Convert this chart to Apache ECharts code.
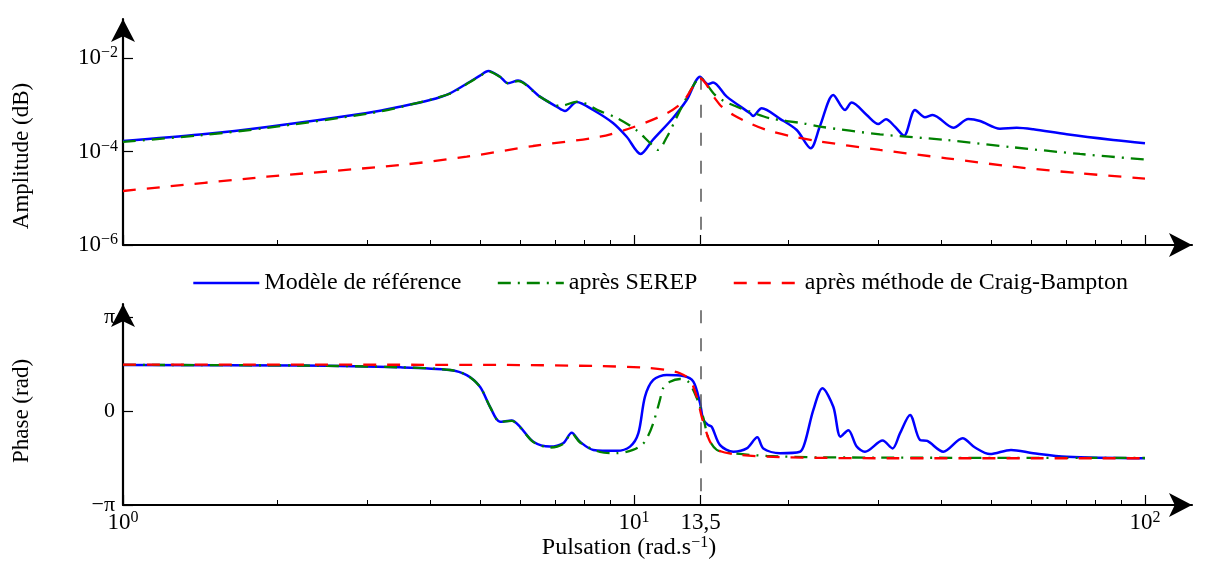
<!DOCTYPE html>
<html>
<head>
<meta charset="utf-8">
<script src="https://cdn.jsdelivr.net/npm/echarts@6/dist/echarts.min.js"></script>
<style>
  html, body { margin: 0; padding: 0; background: #fff; }
  #chart { width: 1213px; height: 563px; }
</style>
</head>
<body>
<div id="chart"></div>
<script>
// pulsation (rad/s) -> amplitude / phase (rad)
const refAmpW = [1, 1.415, 1.913, 3.002, 3.485, 3.989, 4.364, 4.776, 4.996, 5.187, 5.467, 5.668, 5.93, 6.546, 7.058, 7.328, 7.724, 8.32, 9.097, 9.676, 10.306, 10.88, 11.922, 12.68, 13.47, 13.96, 14.28, 15.19, 16.87, 17.1, 17.78, 19.31, 20.82, 22.17, 23.12, 24.55, 25.88, 26.67, 28.54, 30.07, 31.12, 32.41, 33.76, 35.48, 37.11, 38.41, 42.17, 45.11, 47.55, 52.03, 56.1, 60.45, 70.27, 86.7, 100];
const refAmp = [1.68e-4, 2.31e-4, 3.34e-4, 6.67e-4, 9.08e-4, 1.26e-3, 1.76e-3, 3.11e-3, 4.2e-3, 5.27e-3, 3.98e-3, 2.88e-3, 3.3e-3, 1.49e-3, 9.08e-4, 7.34e-4, 1.15e-3, 7.73e-4, 4.07e-4, 2.07e-4, 8.85e-5, 1.76e-4, 5.21e-4, 1.26e-3, 3.98e-3, 2.74e-3, 2.99e-3, 1.49e-3, 6.56e-4, 5.74e-4, 8.39e-4, 5.0e-4, 2.88e-4, 1.17e-4, 3.51e-4, 1.62e-3, 7.73e-4, 1.11e-3, 6.04e-4, 3.87e-4, 4.89e-4, 3.4e-4, 2.18e-4, 7.73e-4, 5.4e-4, 6.04e-4, 3.23e-4, 4.95e-4, 4.49e-4, 3.08e-4, 3.23e-4, 2.99e-4, 2.33e-4, 1.76e-4, 1.5e-4];

const refPhaseW = [1, 2.221, 3.485, 4.364, 4.706, 4.996, 5.227, 5.467, 5.765, 5.984, 6.354, 6.848, 7.262, 7.552, 7.841, 8.325, 9.25, 9.822, 10.196, 10.508, 10.909, 11.588, 12.489, 13.067, 13.468, 13.669, 13.981, 14.198, 14.738, 15.648, 16.622, 17.431, 17.908, 19.311, 21.13, 21.61, 22.43, 23.38, 24.55, 25.36, 26.27, 27.28, 28.32, 30.66, 32.06, 33.15, 34.69, 36.29, 37.5, 40.3, 43.95, 46.49, 49.74, 54.67, 60.45, 70.27, 100];
const refPhase = [1.54, 1.52, 1.46, 1.37, 1.2, 0.81, 0.14, -0.36, -0.32, -0.53, -1.03, -1.19, -1.08, -0.73, -1.03, -1.3, -1.33, -1.19, -0.75, 0.48, 1.04, 1.2, 1.17, 0.98, 0.26, -0.3, -0.47, -0.53, -1.14, -1.36, -1.25, -0.88, -1.25, -1.41, -1.36, -1.04, 0.03, 0.76, 0.14, -0.86, -0.64, -1.19, -1.36, -0.99, -1.25, -0.75, -0.13, -0.97, -1.0, -1.36, -0.91, -1.22, -1.44, -1.3, -1.41, -1.53, -1.58];

const serepAmpW = [1, 1.415, 1.913, 3.002, 3.485, 4.364, 4.776, 4.996, 5.187, 5.467, 5.668, 5.93, 6.546, 7.166, 7.77, 8.58, 9.262, 10.09, 10.75, 11.14, 11.6, 12.13, 12.76, 13.47, 14.4, 15.07, 15.89, 16.87, 18.46, 21.45, 23.12, 30.3, 40.92, 55.16, 74.6, 100];
const serepAmp = [1.6e-4, 2.22e-4, 3.2e-4, 6.4e-4, 8.9e-4, 1.72e-3, 3.05e-3, 4.1e-3, 5.15e-3, 3.95e-3, 2.88e-3, 3.2e-3, 1.49e-3, 9.4e-4, 1.17e-3, 7.3e-4, 5.2e-4, 2.9e-4, 1.52e-4, 1.08e-4, 2.04e-4, 5.5e-4, 1.62e-3, 3.68e-3, 1.62e-3, 1.16e-3, 9.08e-4, 7.1e-4, 5.13e-4, 4.0e-4, 3.4e-4, 2.33e-4, 1.76e-4, 1.23e-4, 8.85e-5, 6.75e-5];

const serepPhaseW = [1, 2.221, 3.485, 4.364, 4.706, 4.996, 5.227, 5.467, 5.765, 5.984, 6.354, 6.848, 7.262, 7.552, 7.841, 8.58, 9.25, 9.954, 10.41, 10.65, 10.91, 11.24, 11.41, 11.76, 12.3, 12.77, 13.27, 13.67, 13.98, 14.52, 15.62, 18.19, 23.12, 100];
const serepPhase = [1.54, 1.52, 1.46, 1.37, 1.2, 0.81, 0.14, -0.36, -0.33, -0.54, -1.04, -1.22, -1.1, -0.75, -1.05, -1.37, -1.41, -1.3, -1.1, -0.84, -0.4, 0.37, 0.77, 0.98, 1.07, 0.98, 0.43, -0.23, -0.9, -1.3, -1.41, -1.5, -1.55, -1.57];

const cbAmpW = [1, 1.913, 3.485, 4.706, 6.344, 8.58, 9.954, 11.59, 12.47, 13.05, 13.47, 14.4, 14.85, 15.65, 16.87, 18.19, 20.2, 22.78, 30.3, 40.92, 55.25, 74.6, 100];
const cbAmp = [1.43e-5, 2.89e-5, 5.14e-5, 7.74e-5, 1.31e-4, 2.07e-4, 3.3e-4, 6.56e-4, 1.16e-3, 2.43e-3, 3.64e-3, 1.37e-3, 9.1e-4, 6.04e-4, 4.0e-4, 2.88e-4, 2.15e-4, 1.68e-4, 1.08e-4, 7.16e-5, 4.73e-5, 3.42e-5, 2.64e-5];

const cbPhaseW = [1, 5.467, 8.58, 10.41, 11.59, 12.3, 12.87, 13.27, 13.57, 13.88, 14.09, 14.52, 16.13, 20.2, 31.7, 100];
const cbPhase = [1.55, 1.54, 1.5, 1.45, 1.37, 1.26, 1.04, 0.47, -0.2, -0.75, -1.03, -1.3, -1.47, -1.55, -1.58, -1.58];

const resonanceW = 13.5;
const majorTicksW = [1, 10, 13.5, 100];
const minorTicksW = [2, 3, 4, 5, 6, 7, 8, 9, 20, 30, 40, 50, 60, 70, 80, 90];
const ampTicks = [-6, -4, -2];           // decades
const phaseTicks = [-Math.PI, 0, Math.PI];
const seriesNames = ['Modèle de référence', 'après SEREP', 'après méthode de Craig-Bampton'];

const FONT = "'Liberation Serif', 'DejaVu Serif', serif";
const lg = Math.log10;
const ampPts = (ws, vs) => ws.map((w, i) => [lg(w), lg(vs[i])]);
const phPts = (ws, vs) => ws.map((w, i) => [lg(w), vs[i]]);

const xMax = 2.092;
const yTopMax = -1.166;
const yBotMax = 3.576;

const arrowLine = {
  show: true,
  onZero: false,
  lineStyle: { color: '#000', width: 2.2 },
  symbol: ['none', 'arrow'],
  symbolSize: [18, 23]
};
const rich = {
  b: { fontFamily: FONT, fontSize: 23, color: '#000', lineHeight: 26 },
  s: { fontFamily: FONT, fontSize: 16, color: '#000', verticalAlign: 'top', lineHeight: 16, padding: [0, 0, 4, 0] }
};

function xAxes(grid, withLabels) {
  return [
    {
      gridIndex: grid, type: 'value', position: 'bottom', min: 0, max: xMax,
      axisLine: arrowLine,
      axisTick: { show: true, inside: true, length: 10, customValues: majorTicksW.map(lg), lineStyle: { color: '#000', width: 1.2 } },
      axisLabel: withLabels ? {
        show: true, margin: 5, customValues: majorTicksW.map(lg), rich,
        formatter: v => Math.abs(v - lg(13.5)) < 1e-6 ? '{b|13,5}' : '{b|10}{s|' + Math.round(v) + '}'
      } : { show: false },
      splitLine: { show: false }
    },
    {
      gridIndex: grid, type: 'value', position: 'bottom', min: 0, max: xMax,
      axisLine: { show: false, onZero: false },
      axisTick: { show: true, inside: true, length: 5, customValues: minorTicksW.map(lg), lineStyle: { color: '#000', width: 1 } },
      axisLabel: { show: false },
      splitLine: { show: false }
    }
  ];
}

const chart = echarts.init(document.getElementById('chart'));

const lineStyles = [
  { color: '#0000ff', width: 2.5, type: 'solid' },
  { color: '#008000', width: 2.3, type: [13, 7, 2, 7] },
  { color: '#ff0000', width: 2.3, type: [13, 11] }
];
const ampData = [ampPts(refAmpW, refAmp), ampPts(serepAmpW, serepAmp), ampPts(cbAmpW, cbAmp)];
const phData = [phPts(refPhaseW, refPhase), phPts(serepPhaseW, serepPhase), phPts(cbPhaseW, cbPhase)];

const dashed = { color: '#555', width: 1.5, type: [13, 15] };
const series = [];
seriesNames.forEach((name, i) => {
  series.push({
    name, type: 'line', xAxisIndex: 0, yAxisIndex: 0, data: ampData[i],
    symbol: 'none', smooth: 0.3, lineStyle: lineStyles[i], itemStyle: { color: lineStyles[i].color },
    z: 3 + i
  });
});
seriesNames.forEach((name, i) => {
  series.push({
    name, type: 'line', xAxisIndex: 2, yAxisIndex: 1, data: phData[i],
    symbol: 'none', smooth: 0.3, lineStyle: lineStyles[i], itemStyle: { color: lineStyles[i].color },
    z: 3 + i
  });
});
// vertical marker at 13,5 rad/s
series[0].markLine = {
  silent: true, symbol: ['none', 'none'], label: { show: false }, lineStyle: dashed,
  data: [[{ coord: [lg(resonanceW), -2.40] }, { coord: [lg(resonanceW), -6] }]]
};
series[3].markLine = {
  silent: true, symbol: ['none', 'none'], label: { show: false }, lineStyle: dashed,
  data: [[{ coord: [lg(resonanceW), 3.37] }, { coord: [lg(resonanceW), -Math.PI] }]]
};

chart.setOption({
  animation: false,
  backgroundColor: '#fff',
  textStyle: { fontFamily: FONT },
  grid: [
    { left: 123, top: 19, width: 1069, height: 226 },
    { left: 123, top: 304, width: 1069, height: 201 }
  ],
  legend: {
    data: seriesNames,
    left: 187, top: 266,
    itemWidth: 66, itemHeight: 14, itemGap: 35,
    itemStyle: { opacity: 0 },
    lineStyle: { width: 2.6 },
    textStyle: { fontFamily: FONT, fontSize: 24, color: '#000' }
  },
  xAxis: [...xAxes(0, false), ...xAxes(1, true)],
  yAxis: [
    {
      gridIndex: 0, type: 'value', min: -6, max: yTopMax,
      axisLine: arrowLine,
      axisTick: { show: true, inside: true, length: 10, customValues: ampTicks, lineStyle: { color: '#000', width: 1.2 } },
      axisLabel: {
        show: true, margin: 5, customValues: ampTicks, rich,
        formatter: v => '{b|10}{s|−' + Math.abs(Math.round(v)) + '}'
      },
      splitLine: { show: false }
    },
    {
      gridIndex: 1, type: 'value', min: -Math.PI, max: yBotMax,
      axisLine: arrowLine,
      axisTick: { show: true, inside: true, length: 10, customValues: phaseTicks, lineStyle: { color: '#000', width: 1.2 } },
      axisLabel: {
        show: true, margin: 8, customValues: phaseTicks, fontFamily: FONT, fontSize: 22, color: '#000',
        formatter: v => v > 1 ? 'π' : (v < -1 ? '−π' : '0')
      },
      splitLine: { show: false }
    }
  ],
  graphic: [
    { type: 'text', x: 22, y: 156, rotation: Math.PI / 2,
      style: { text: 'Amplitude (dB)', font: '23px ' + FONT, fill: '#000', align: 'center', verticalAlign: 'middle' } },
    { type: 'text', x: 22, y: 411, rotation: Math.PI / 2,
      style: { text: 'Phase (rad)', font: '23px ' + FONT, fill: '#000', align: 'center', verticalAlign: 'middle' } },
    { type: 'text', x: 629, y: 548,
      style: { text: '{p|Pulsation (rad.s}{s|−1}{p|)}', align: 'center', verticalAlign: 'middle',
        rich: { p: { fontFamily: FONT, fontSize: 24, color: '#000', lineHeight: 26 }, s: rich.s } } }
  ],
  series
});
</script>
</body>
</html>
